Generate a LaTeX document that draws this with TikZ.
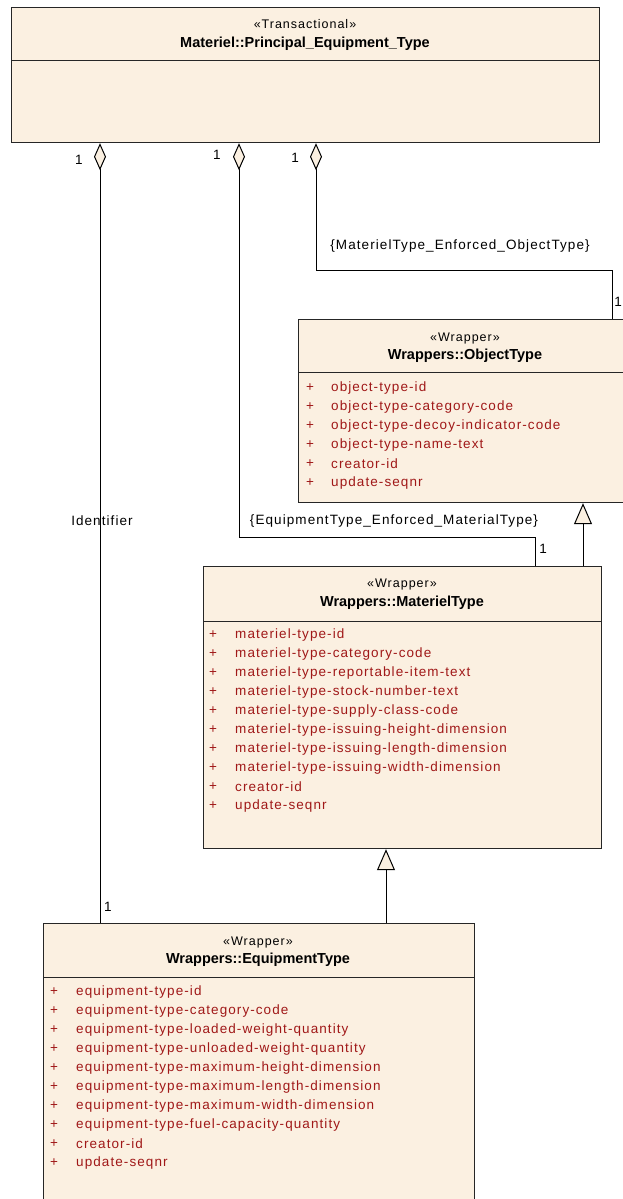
\documentclass[tikz,border=0pt]{standalone}
\usepackage{fontspec}
\setmainfont{Liberation Sans}[LetterSpace=8,BoldFeatures={LetterSpace=0}]
\usetikzlibrary{arrows.meta}
\definecolor{umlfill}{RGB}{251,240,225}
\definecolor{attrred}{RGB}{160,24,24}

\tikzset{
  classbox/.style={draw=black!85, line width=1.2pt, fill=umlfill, anchor=north west, inner sep=0pt},
  divider/.style={draw=black!85, line width=1pt},
  stereo/.style={inner sep=0pt, font=\fontsize{12.5}{14}\selectfont},
  cname/.style={inner sep=0pt, font=\fontsize{14.5}{16}\selectfont\bfseries},
  attr/.style={text=attrred, anchor=west, inner sep=0pt, font=\fontsize{13.5}{16}\selectfont},
  lbl/.style={inner sep=0pt, font=\fontsize{13.5}{16}\selectfont},
  agg/.style={{Diamond[fill=umlfill,length=27pt,width=12pt]}-, line width=1pt},
  gen/.style={-{Triangle[fill=umlfill,length=21pt,width=18pt]}, line width=1pt},
}

\begin{document}
\begin{tikzpicture}[x=1pt, y=-1pt]
    \clip (0,0) rectangle (623,1199);

    % Principal_Equipment_Type
    \node[classbox, minimum width=588pt, minimum height=135pt] (pet) at (11,7) {};
    \draw[divider] (11,61) -- (599,61);
    \node[stereo] (pet-st) at (305,24) {«Transactional»};
    \node[cname] (pet-nm) at (305,44) {Materiel::Principal\_Equipment\_Type};

    % ObjectType
    \node[classbox, minimum width=334pt, minimum height=183pt] (obj) at (298,319) {};
    \draw[divider] (298,372) -- (632,372);
    \node[stereo] (obj-st) at (465,338) {«Wrapper»};
    \node[cname] (obj-nm) at (465,356) {Wrappers::ObjectType};
    \foreach \t [count=\i] in {object-type-id, object-type-category-code,
        object-type-decoy-indicator-code, object-type-name-text, creator-id, update-seqnr} {
        \node[attr] (obj-p\i) at (306,388+19*\i-19) {+};
        \node[attr] (obj-a\i) at (331,388+19*\i-19) {\t};
    }

    % MaterielType
    \node[classbox, minimum width=398pt, minimum height=282pt] (mat) at (203,566) {};
    \draw[divider] (203,621) -- (601,621);
    \node[stereo] (mat-st) at (402,584) {«Wrapper»};
    \node[cname] (mat-nm) at (402,603) {Wrappers::MaterielType};
    \foreach \t [count=\i] in {materiel-type-id, materiel-type-category-code,
        materiel-type-reportable-item-text, materiel-type-stock-number-text,
        materiel-type-supply-class-code, materiel-type-issuing-height-dimension,
        materiel-type-issuing-length-dimension, materiel-type-issuing-width-dimension,
        creator-id, update-seqnr} {
        \node[attr] (mat-p\i) at (209,635+19*\i-19) {+};
        \node[attr] (mat-a\i) at (235,635+19*\i-19) {\t};
    }

    % EquipmentType
    \node[classbox, minimum width=431pt, minimum height=300pt] (equ) at (43,923) {};
    \draw[divider] (43,977) -- (474,977);
    \node[stereo] (equ-st) at (258,942) {«Wrapper»};
    \node[cname] (equ-nm) at (258,960) {Wrappers::EquipmentType};
    \foreach \t [count=\i] in {equipment-type-id, equipment-type-category-code,
        equipment-type-loaded-weight-quantity, equipment-type-unloaded-weight-quantity,
        equipment-type-maximum-height-dimension, equipment-type-maximum-length-dimension,
        equipment-type-maximum-width-dimension, equipment-type-fuel-capacity-quantity,
        creator-id, update-seqnr} {
        \node[attr] (equ-p\i) at (50,992+19*\i-19) {+};
        \node[attr] (equ-a\i) at (76,992+19*\i-19) {\t};
    }

    % associations
    \draw[agg] ([xshift=89pt]pet.south west) -- ([xshift=57pt]equ.north west);
    \draw[agg] ([xshift=228pt]pet.south west) |- ([xshift=332pt,yshift=29pt]mat.north west)
        -- ([xshift=332pt]mat.north west);
    \draw[agg] ([xshift=305pt]pet.south west) |- ([xshift=314pt,yshift=49pt]obj.north west)
        -- ([xshift=314pt]obj.north west);

    % generalizations
    \coordinate (g1) at ([xshift=380pt]mat.north west);
    \coordinate (g2) at ([xshift=343pt]equ.north west);
    \draw[gen] (g1) -- (g1 |- obj.south);
    \draw[gen] (g2) -- (g2 |- mat.south);

    % labels
    \node[lbl] (l-id) at (102,521) {Identifier};
    \node[lbl] (l-mo) at (460,246) {\{MaterielType\_Enforced\_ObjectType\}};
    \node[lbl] (l-em) at (394,521) {\{EquipmentType\_Enforced\_MaterialType\}};
    \node[lbl] (m1) at (79,160) {1};
    \node[lbl] (m2) at (217,155) {1};
    \node[lbl] (m3) at (295,158) {1};
    \node[lbl] (m4) at (618,302) {1};
    \node[lbl] (m5) at (543,549) {1};
    \node[lbl] (m6) at (108,907) {1};
\end{tikzpicture}
\end{document}
